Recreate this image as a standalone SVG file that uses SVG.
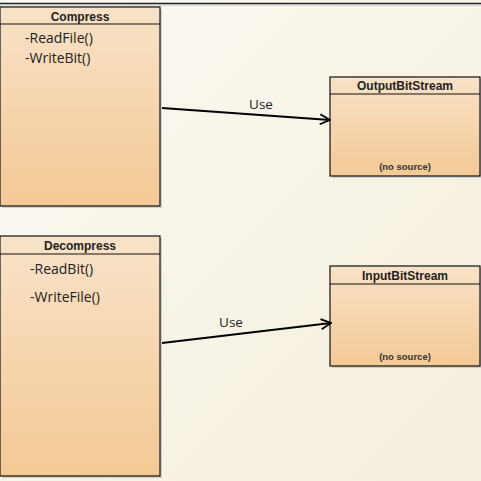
<svg xmlns="http://www.w3.org/2000/svg" width="481" height="481" viewBox="0 0 481 481">
<defs>
<linearGradient id="bg" x1="0" y1="0" x2="1" y2="1">
<stop offset="0" stop-color="#fbf9f3"/>
<stop offset="1" stop-color="#f4eedc"/>
</linearGradient>
<linearGradient id="box" x1="0" y1="0" x2="0" y2="1">
<stop offset="0" stop-color="#f8e2c8"/>
<stop offset="1" stop-color="#f4c995"/>
</linearGradient>
<marker id="open" viewBox="0 0 12 12" refX="11" refY="6" markerWidth="12" markerHeight="12" markerUnits="userSpaceOnUse" orient="auto">
<path d="M1,1 L11,6 L1,11" fill="none" stroke="#000" stroke-width="1.8"/>
</marker>
</defs>
<style>
.b{fill:url(#box);stroke:#111;stroke-width:1.2}
.sh{fill:#000;opacity:0.15}
.hd{stroke:#111;stroke-width:1}
.t{font-family:"Liberation Sans",Arial,sans-serif;font-weight:bold;font-size:12px;fill:#222;text-anchor:middle}
.m{font-family:"Open Sans","Liberation Sans",sans-serif;font-size:14px;fill:#222}
.ns{font-family:"Liberation Sans",Arial,sans-serif;font-weight:bold;font-size:9.5px;fill:#333;text-anchor:middle}
.c{stroke:#000;stroke-width:1.8;fill:none}
.u{font-family:"Open Sans","Liberation Sans",sans-serif;font-size:13.5px;fill:#222;text-anchor:middle}
</style>
<rect width="481" height="481" fill="url(#bg)"/>
<line x1="0" y1="3.5" x2="481" y2="3.5" stroke="#222" stroke-width="1.5"/>
<line x1="0" y1="5" x2="481" y2="5" stroke="#bbb" stroke-width="1"/>
<g id="compress">
<rect class="sh" x="2" y="9" width="160" height="199"/>
<rect class="b" x="0" y="7" width="160" height="199"/>
<line class="hd" x1="0" y1="24" x2="160" y2="24"/>
<text class="t" x="80" y="21">Compress</text>
<text class="m" x="25" y="43">-ReadFile()</text>
<text class="m" x="25" y="63">-WriteBit()</text>
</g>
<g id="outputbitstream">
<rect class="sh" x="332" y="79" width="150" height="99"/>
<rect class="b" x="330" y="77" width="150" height="99"/>
<line class="hd" x1="330" y1="94" x2="480" y2="94"/>
<text class="t" x="405" y="90">OutputBitStream</text>
<text class="ns" x="405" y="170">(no source)</text>
</g>
<g id="decompress">
<rect class="sh" x="2" y="238" width="160" height="240"/>
<rect class="b" x="0" y="236" width="160" height="240"/>
<line class="hd" x1="0" y1="254" x2="160" y2="254"/>
<text class="t" x="80" y="250">Decompress</text>
<text class="m" x="30" y="274">-ReadBit()</text>
<text class="m" x="30" y="302">-WriteFile()</text>
</g>
<g id="inputbitstream">
<rect class="sh" x="332" y="268" width="150" height="100"/>
<rect class="b" x="330" y="266" width="150" height="100"/>
<line class="hd" x1="330" y1="284" x2="480" y2="284"/>
<text class="t" x="405" y="280">InputBitStream</text>
<text class="ns" x="405" y="360">(no source)</text>
</g>
<g id="connectors">
<line class="c" x1="162" y1="108" x2="330" y2="120" marker-end="url(#open)"/>
<text class="u" x="261" y="109">Use</text>
<line class="c" x1="162" y1="343" x2="331" y2="323" marker-end="url(#open)"/>
<text class="u" x="231" y="327">Use</text>
</g>
</svg>
